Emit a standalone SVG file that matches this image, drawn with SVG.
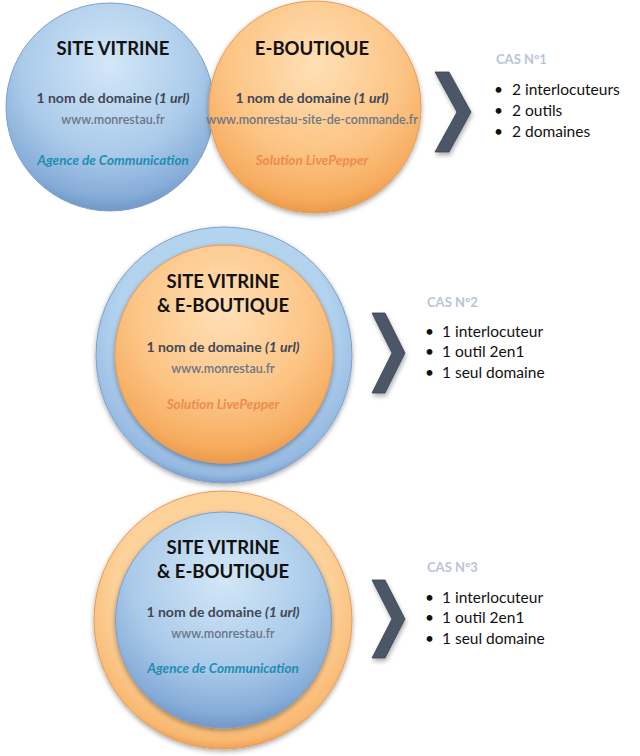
<svg xmlns="http://www.w3.org/2000/svg" width="640" height="756" viewBox="0 0 640 756">
<defs>
<radialGradient id="gBlue" cx="50%" cy="30%" r="70%">
<stop offset="0" stop-color="#d3e7f7"/>
<stop offset="0.6" stop-color="#abcbea"/>
<stop offset="0.9" stop-color="#86acd8"/>
<stop offset="1" stop-color="#7298c8"/>
</radialGradient>
<radialGradient id="gOrange" cx="50%" cy="30%" r="70%">
<stop offset="0" stop-color="#ffe0b6"/>
<stop offset="0.6" stop-color="#fcc484"/>
<stop offset="0.9" stop-color="#f6ac5e"/>
<stop offset="1" stop-color="#eb9a4a"/>
</radialGradient>
<radialGradient id="gBlueRing" cx="50%" cy="40%" r="60%">
<stop offset="0.7" stop-color="#b4d3ef"/>
<stop offset="0.95" stop-color="#94b8e0"/>
<stop offset="1" stop-color="#7a9fcc"/>
</radialGradient>
<radialGradient id="gOrangeRing" cx="50%" cy="40%" r="60%">
<stop offset="0.7" stop-color="#fdd19a"/>
<stop offset="0.95" stop-color="#f8b870"/>
<stop offset="1" stop-color="#eea058"/>
</radialGradient>
<filter id="sh" x="-20%" y="-20%" width="140%" height="140%">
<feDropShadow dx="0" dy="2" stdDeviation="2.5" flood-color="#000" flood-opacity="0.35"/>
</filter>
<filter id="shc" x="-30%" y="-20%" width="160%" height="140%">
<feDropShadow dx="1" dy="3" stdDeviation="2" flood-color="#000" flood-opacity="0.3"/>
</filter>
</defs>
<style>
text{font-family:Lato,"Open Sans","Liberation Sans",sans-serif;}
.t{font-weight:bold;font-size:18.5px;fill:#111;text-anchor:middle;}
.d{font-weight:bold;font-size:14px;fill:#3f4756;text-anchor:middle;}
.u{font-size:12.5px;fill:#6b7585;text-anchor:middle;font-weight:600;}
.ag{font-weight:bold;font-style:italic;font-size:13.5px;fill:#1e8db3;text-anchor:middle;}
.lp{font-weight:bold;font-style:italic;font-size:13.5px;fill:#ec8c4e;text-anchor:middle;}
.cas{font-weight:bold;font-size:13px;fill:#b9c4d8;}
.b{font-size:15.5px;fill:#111;}
.chev{fill:#4c5666;stroke:#3a4250;stroke-width:0.8;filter:url(#shc);}
</style>

<g id="cas1-vitrine">
<circle cx="110" cy="107" r="104" fill="url(#gBlue)" stroke="#7d9fcb" stroke-width="1"/>
<text class="t" x="113" y="55">SITE VITRINE</text>
<text class="d" x="113" y="103">1 nom de domaine <tspan font-style="italic">(1 url)</tspan></text>
<text class="u" x="113" y="124">www.monrestau.fr</text>
<text class="ag" x="113" y="165">Agence de Communication</text>
</g>
<g id="cas1-boutique">
<circle cx="315" cy="107" r="106" fill="url(#gOrange)" stroke="#e99c55" stroke-width="1" filter="url(#sh)"/>
<text class="t" x="312" y="55">E-BOUTIQUE</text>
<text class="d" x="312" y="103">1 nom de domaine <tspan font-style="italic">(1 url)</tspan></text>
<text class="u" x="312" y="124">www.monrestau-site-de-commande.fr</text>
<text class="lp" x="312" y="165">Solution LivePepper</text>
</g>
<g id="cas1-info">
<text class="cas" x="496" y="64">CAS N°1</text>
<text class="b" x="494" y="95">•</text><text class="b" x="512" y="95">2 interlocuteurs</text>
<text class="b" x="494" y="116">•</text><text class="b" x="512" y="116">2 outils</text>
<text class="b" x="494" y="137">•</text><text class="b" x="512" y="137">2 domaines</text>
</g>

<g id="cas2-circle">
<circle cx="224" cy="355" r="128" fill="url(#gBlueRing)" stroke="#7d9fcb" stroke-width="1" filter="url(#sh)"/>
<circle cx="224" cy="354" r="109" fill="url(#gOrange)" stroke="#e99c55" stroke-width="1" filter="url(#sh)"/>
<text class="t" x="223" y="288">SITE VITRINE</text>
<text class="t" x="223" y="312">&amp; E-BOUTIQUE</text>
<text class="d" x="223" y="352">1 nom de domaine <tspan font-style="italic">(1 url)</tspan></text>
<text class="u" x="223" y="373">www.monrestau.fr</text>
<text class="lp" x="223" y="409">Solution LivePepper</text>
</g>
<g id="cas2-info">
<text class="cas" x="427" y="307">CAS N°2</text>
<text class="b" x="425" y="337">•</text><text class="b" x="442" y="337">1 interlocuteur</text>
<text class="b" x="425" y="357">•</text><text class="b" x="442" y="357">1 outil 2en1</text>
<text class="b" x="425" y="378">•</text><text class="b" x="442" y="378">1 seul domaine</text>
</g>

<g id="cas3-circle">
<circle cx="223" cy="620" r="129" fill="url(#gOrangeRing)" stroke="#e99c55" stroke-width="1" filter="url(#sh)"/>
<circle cx="223.5" cy="620" r="108" fill="url(#gBlue)" stroke="#7d9fcb" stroke-width="1" filter="url(#sh)"/>
<text class="t" x="223" y="554">SITE VITRINE</text>
<text class="t" x="223" y="578">&amp; E-BOUTIQUE</text>
<text class="d" x="223" y="617">1 nom de domaine <tspan font-style="italic">(1 url)</tspan></text>
<text class="u" x="223" y="638">www.monrestau.fr</text>
<text class="ag" x="223" y="673">Agence de Communication</text>
</g>
<g id="cas3-info">
<text class="cas" x="427" y="572">CAS N°3</text>
<text class="b" x="425" y="603">•</text><text class="b" x="442" y="603">1 interlocuteur</text>
<text class="b" x="425" y="623">•</text><text class="b" x="442" y="623">1 outil 2en1</text>
<text class="b" x="425" y="644">•</text><text class="b" x="442" y="644">1 seul domaine</text>
</g>

<g id="connectors">
<polygon class="chev" points="435,72 449,72 471,112 449,152 435,152 457,112"/>
<polygon class="chev" points="372,313 385,313 405,353 385,393 372,393 392,353"/>
<polygon class="chev" points="372,580 385,580 405,619 385,658 372,658 392,619"/>
</g>
</svg>
